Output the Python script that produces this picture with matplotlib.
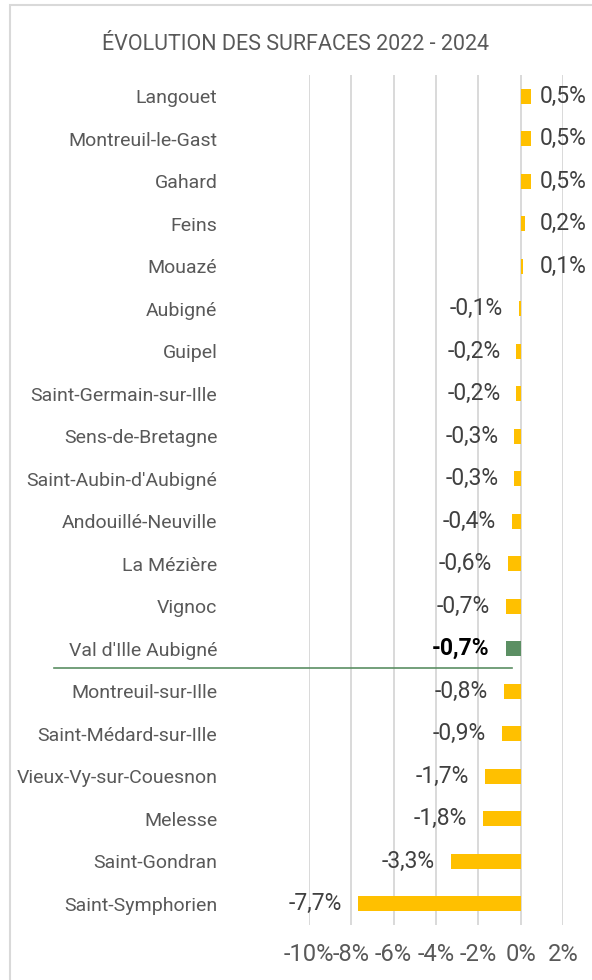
import matplotlib
matplotlib.use("Agg")
import matplotlib.pyplot as plt
import matplotlib.transforms as mtransforms
from matplotlib.patches import Rectangle
from matplotlib.ticker import FuncFormatter, MultipleLocator

communes = ["Langouet", "Montreuil-le-Gast", "Gahard", "Feins", "Mouazé", "Aubigné",
            "Guipel", "Saint-Germain-sur-Ille", "Sens-de-Bretagne", "Saint-Aubin-d'Aubigné",
            "Andouillé-Neuville", "La Mézière", "Vignoc", "Val d'Ille Aubigné",
            "Montreuil-sur-Ille", "Saint-Médard-sur-Ille", "Vieux-Vy-sur-Couesnon",
            "Melesse", "Saint-Gondran", "Saint-Symphorien"]
evolution = [0.5, 0.5, 0.5, 0.2, 0.1, -0.1, -0.2, -0.2, -0.3, -0.3, -0.4, -0.6, -0.7,
             -0.7, -0.8, -0.9, -1.7, -1.8, -3.3, -7.7]
highlight = "Val d'Ille Aubigné"
title = "ÉVOLUTION DES SURFACES 2022 - 2024"

FONT = ["Roboto", "DejaVu Sans"]
plt.rcParams['font.family'] = FONT

YELLOW = "#FFC000"
GREEN = "#5B8F63"
GRID = "#D9D9D9"
TXT = "#595959"
VAL = "#404040"

fig = plt.figure(figsize=(5.92, 9.80), dpi=100)
ax = fig.add_axes([0.522, 0.0561, 0.429, 0.8674])

n = len(communes)
ypos = list(range(n))
colors = [GREEN if c == highlight else YELLOW for c in communes]
ax.barh(ypos, evolution, height=0.35, color=colors, zorder=3)

ax.set_xlim(-10, 2)
ax.set_ylim(n - 0.5, -0.5)
ax.xaxis.set_major_locator(MultipleLocator(2))
ax.xaxis.set_major_formatter(FuncFormatter(lambda v, p: f"{int(round(v))}%"))
ax.grid(axis='x', color=GRID, linewidth=1.4, zorder=0)
ax.set_axisbelow(True)
for s in ax.spines.values():
    s.set_visible(False)
ax.tick_params(axis='x', length=0, labelsize=17, labelcolor=TXT, pad=13)
ax.tick_params(axis='y', length=0, labelsize=14, labelcolor=TXT, pad=66)
ax.set_yticks(ypos)
ax.set_yticklabels(communes)

for i, (c, v) in enumerate(zip(communes, evolution)):
    lab = f"{v:.1f}%".replace(".", ",")
    bold = c == highlight
    if v >= 0:
        ax.annotate(lab, xy=(0, i), xytext=(19, 0), textcoords='offset pixels',
                    ha='left', va='center', fontsize=16.5, color=VAL)
    else:
        ax.annotate(lab, xy=(v, i), xytext=(-16, 0), textcoords='offset pixels',
                    ha='right', va='center', fontsize=16.5,
                    color='black' if bold else VAL, fontweight='bold' if bold else 'normal')

# separator line under the highlighted row
hi = communes.index(highlight)
tr = mtransforms.blended_transform_factory(fig.transFigure, ax.transData)
ax.plot([54 / 592, 512 / 592], [hi + 0.45, hi + 0.45], transform=tr, color=GREEN,
        linewidth=1.2, clip_on=False, zorder=4)

fig.text(296 / 592, 1 - 45 / 980, title, ha='center', va='center', fontsize=15.5, color=TXT)

# chart border
fig.patches.append(Rectangle((10 / 592, -0.01), 1.0, 1 - 5 / 980 + 0.01, transform=fig.transFigure,
                             fill=False, edgecolor=GRID, linewidth=1.5))

fig.savefig("out.png", dpi=100)
